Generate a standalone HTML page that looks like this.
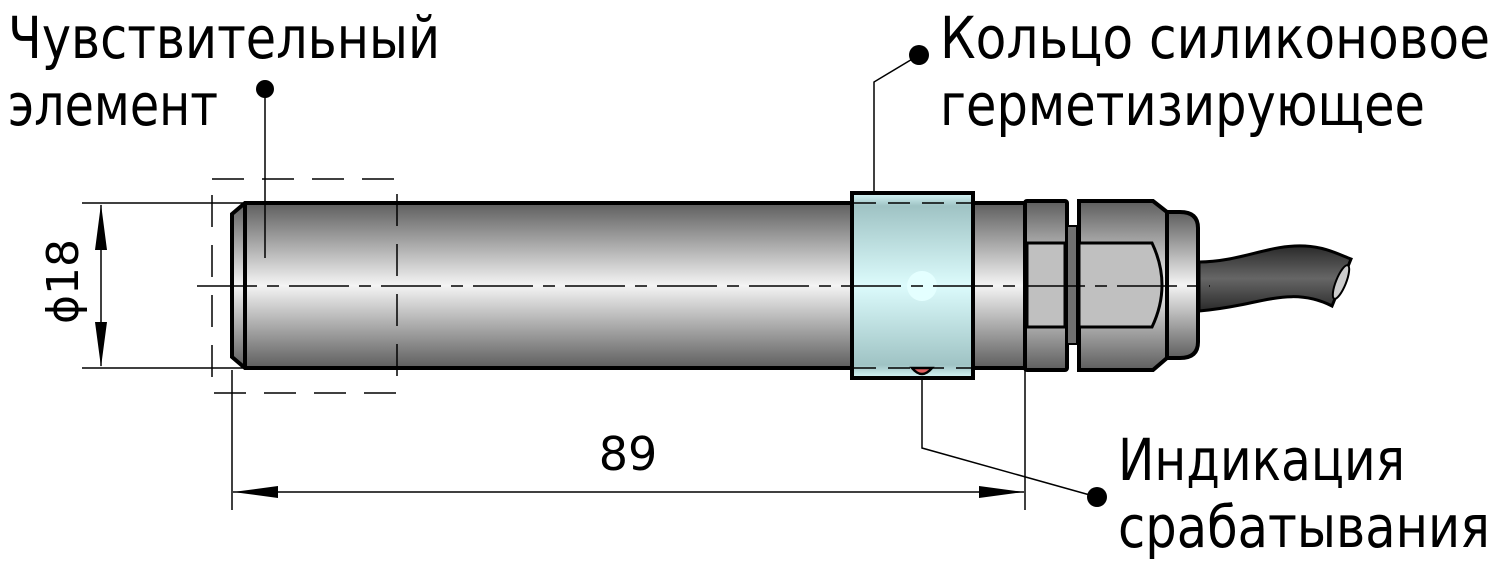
<!DOCTYPE html>
<html><head><meta charset="utf-8"><style>
html,body{margin:0;padding:0;background:#fff;width:1500px;height:569px;overflow:hidden}
svg{display:block}
text{font-family:"DejaVu Sans","Liberation Sans",sans-serif;fill:#000}
</style></head><body>
<svg width="1500" height="569" viewBox="0 0 1500 569" xmlns="http://www.w3.org/2000/svg">
<defs>
<linearGradient id="m" x1="0" y1="0" x2="0" y2="1">
<stop offset="0" stop-color="#5e5e5e"/><stop offset="0.5" stop-color="#f4f4f4"/><stop offset="1" stop-color="#5e5e5e"/>
</linearGradient>
<linearGradient id="g" x1="0" y1="0" x2="0" y2="1">
<stop offset="0" stop-color="#8c8c8c"/><stop offset="0.5" stop-color="#dcdcdc"/><stop offset="1" stop-color="#8c8c8c"/>
</linearGradient>
<linearGradient id="r" x1="0" y1="0" x2="0" y2="1">
<stop offset="0" stop-color="#d8f7f8"/><stop offset="0.07" stop-color="#9fc3c4"/><stop offset="0.5" stop-color="#dcfbfc"/><stop offset="0.93" stop-color="#9fc3c4"/><stop offset="1" stop-color="#d8f7f8"/>
</linearGradient>
<linearGradient id="c" x1="0" y1="0" x2="0" y2="1">
<stop offset="0" stop-color="#2a2a2a"/><stop offset="0.5" stop-color="#666"/><stop offset="1" stop-color="#2a2a2a"/>
</linearGradient>
</defs>

<!-- body -->
<path d="M245,203 H1025 V368 H245 L232,357 V214 Z" fill="url(#m)" stroke="#000" stroke-width="4"/>
<line x1="245" y1="203" x2="245" y2="368" stroke="#000" stroke-width="4"/>

<!-- nut1 -->
<rect x="1025" y="201" width="42" height="169" rx="2" fill="url(#m)" stroke="#000" stroke-width="4"/>
<rect x="1027" y="243" width="38" height="84" fill="#c0c0c0" stroke="#000" stroke-width="3"/>
<rect x="1067" y="226" width="10" height="118" fill="#707070" stroke="#000" stroke-width="2"/>
<!-- nut2 -->
<path d="M1079,201 H1153 L1167,212 V358 L1153,370 H1079 Z" fill="url(#m)" stroke="#000" stroke-width="4"/>
<path d="M1079,243 H1152 Q1172,285 1152,327 H1079 Z" fill="#c0c0c0" stroke="#000" stroke-width="3"/>
<path d="M1167,212 H1180 Q1198,212 1198,228 V342 Q1198,358 1180,358 H1167 Z" fill="url(#m)" stroke="#000" stroke-width="4"/>
<!-- cable -->
<path d="M1199,262 C1240,262 1270,244 1305,246 C1325,247 1338,254 1351,259 L1332,306 C1300,290 1275,298 1240,305 C1225,308 1210,310 1199,311 Z" fill="url(#c)" stroke="#000" stroke-width="3"/>
<ellipse cx="1341" cy="282" rx="5" ry="18" transform="rotate(22 1341 282)" fill="#ccc" stroke="#000" stroke-width="2"/>

<!-- ring -->
<rect x="852" y="193" width="121" height="185" fill="url(#r)" stroke="#000" stroke-width="4"/>
<line x1="854" y1="203" x2="971" y2="203" stroke="#000" stroke-width="1.5" stroke-dasharray="22,12"/>
<line x1="854" y1="368" x2="971" y2="368" stroke="#000" stroke-width="1.5" stroke-dasharray="22,12"/>
<circle cx="922" cy="286" r="15" fill="#e4ffff"/>
<path d="M912,368 Q922,380 932,368 Z" fill="#e06060" stroke="#000" stroke-width="2.5"/>

<!-- center line -->
<line x1="197" y1="286" x2="1210" y2="286" stroke="#000" stroke-width="1.5" stroke-dasharray="60,10,12,10"/>

<!-- dashed box -->
<rect x="212" y="179" width="185" height="214" fill="none" stroke="#000" stroke-width="1.5" stroke-dasharray="32,18"/>

<!-- diameter dimension -->
<line x1="82" y1="203" x2="245" y2="203" stroke="#000" stroke-width="1.5"/>
<line x1="82" y1="368" x2="245" y2="368" stroke="#000" stroke-width="1.5"/>
<line x1="101" y1="205" x2="101" y2="366" stroke="#000" stroke-width="1.5"/>
<path d="M101,204 L95,250 L107,250 Z M101,367 L95,322 L107,322 Z" fill="#000"/>
<text x="0" y="0" font-size="44" transform="translate(78,324) rotate(-90)">ϕ18</text>

<!-- length dimension -->
<line x1="232" y1="370" x2="232" y2="510" stroke="#000" stroke-width="1.5"/>
<line x1="1025" y1="370" x2="1025" y2="510" stroke="#000" stroke-width="1.5"/>
<line x1="233" y1="492" x2="1024" y2="492" stroke="#000" stroke-width="1.5"/>
<path d="M233,492 L278,486 L278,498 Z M1024,492 L979,486 L979,498 Z" fill="#000"/>
<text x="628" y="470" font-size="46" text-anchor="middle">89</text>

<!-- leaders -->
<line x1="265" y1="90" x2="265" y2="258" stroke="#000" stroke-width="1.5"/>
<circle cx="265" cy="89" r="9" fill="#000"/>
<polyline points="919,55 874,82 874,193" fill="none" stroke="#000" stroke-width="1.5"/>
<circle cx="919" cy="55" r="10" fill="#000"/>
<polyline points="922,380 922,448 1097,497" fill="none" stroke="#000" stroke-width="1.5"/>
<circle cx="1097" cy="497" r="10" fill="#000"/>

<!-- labels -->
<text x="8" y="58" font-size="58" textLength="432" lengthAdjust="spacingAndGlyphs">Чувствительный</text>
<text x="8" y="125" font-size="58" textLength="210" lengthAdjust="spacingAndGlyphs">элемент</text>
<text x="940" y="58" font-size="58" textLength="550" lengthAdjust="spacingAndGlyphs">Кольцо силиконовое</text>
<text x="940" y="125" font-size="58" textLength="485" lengthAdjust="spacingAndGlyphs">герметизирующее</text>
<text x="1118" y="480" font-size="58" textLength="287" lengthAdjust="spacingAndGlyphs">Индикация</text>
<text x="1118" y="547" font-size="58" textLength="372" lengthAdjust="spacingAndGlyphs">срабатывания</text>
</svg>
</body></html>
